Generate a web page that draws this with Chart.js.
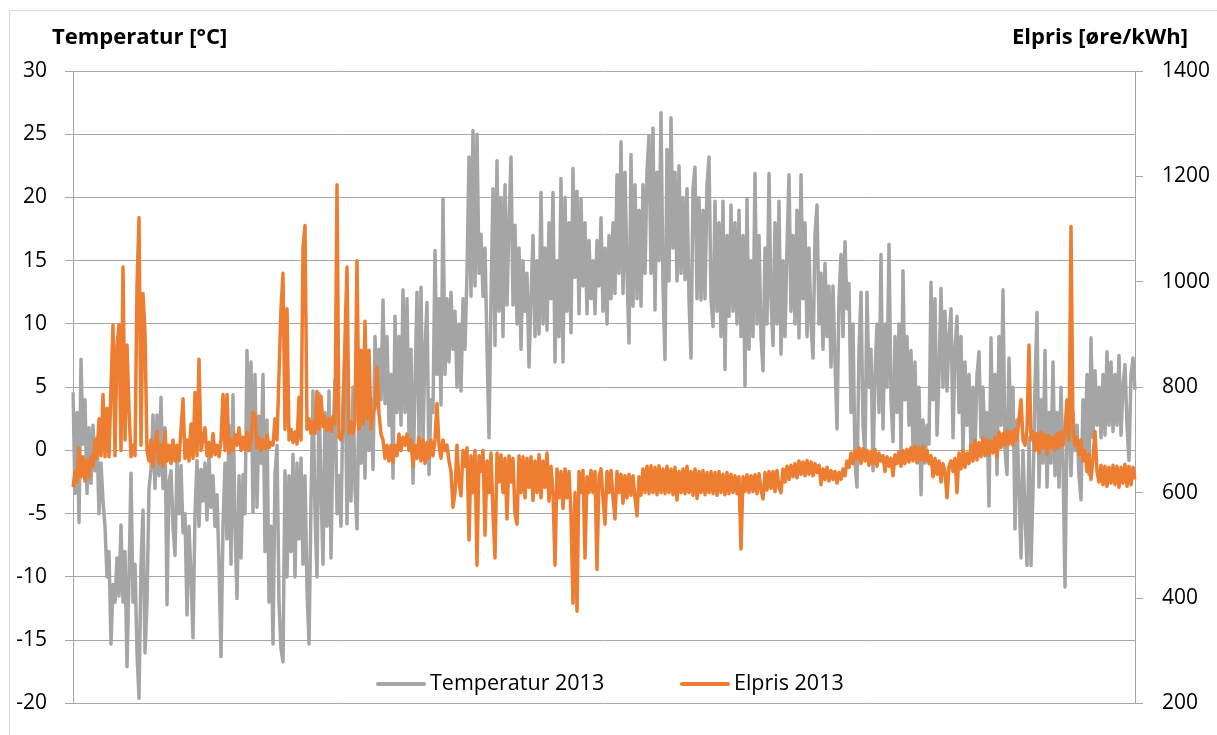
<!DOCTYPE html>
<html>
<head>
<meta charset="utf-8">
<script src="https://cdn.jsdelivr.net/npm/chart.js@4/dist/chart.umd.min.js"></script>
<style>
  body { margin: 0; background: #fff; }
  #wrap { position: relative; width: 1217px; height: 735px; overflow: hidden; }
  #frame { position: absolute; left: 9px; top: 10px; width: 1300px; height: 800px;
           border-left: 1px solid #d9d9d9; border-top: 1px solid #d9d9d9; }
  canvas { position: absolute; left: 0; top: 0; }
  .axis-title { position: absolute; top: 20px; font: bold 22px "Open Sans", sans-serif; color: #000; white-space: nowrap; }
  .legend { position: absolute; top: 668px; font: 21.5px "Open Sans", sans-serif; color: #000; white-space: nowrap; line-height: 28px; }
  .legend span.swatch { display: inline-block; width: 50px; height: 4px; border-radius: 2px; vertical-align: middle; margin-right: 4px; }
</style>
</head>
<body>
<div id="wrap">
  <div id="frame"></div>
  <canvas id="chart" width="1217" height="735"></canvas>
  <div class="axis-title" style="left:52px">Temperatur [°C]</div>
  <div class="axis-title" style="left:1012px">Elpris [øre/kWh]</div>
  <div class="legend" style="left:376px"><span class="swatch" style="background:#a5a5a5"></span>Temperatur 2013</div>
  <div class="legend" style="left:680px"><span class="swatch" style="background:#ed7d31"></span>Elpris 2013</div>
</div>
<script>
const temperatur = [
  4.6, -3.4, 3.0, -5.7, 7.2, 0.5, 4.0, -3.4, 1.8, -2.6, 2.0, -1.6, 1.0, -5.0, -1.0, -4.0, -6.0, -10.0, -8.0, -15.3,
  -10.6, -12.0, -8.5, -11.5, -5.9, -12.0, -8.0, -17.1, -10.0, -1.8, -12.0, -9.0, -16.0, -19.6, -9.0, -4.7, -16.0, -12.0, -3.0, -1.5,
  2.8, -3.0, 2.8, -2.0, 4.2, -3.0, 1.8, -12.2, -2.5, -1.6, -6.0, -8.3, -0.8, -5.0, -1.2, -6.5, -5.0, -13.0, -6.0, -10.0,
  -14.8, -5.0, -0.8, -6.0, -1.5, -4.0, -1.0, -5.5, -0.5, -4.5, -2.0, -6.0, -3.5, -9.0, -16.3, -6.0, -1.0, -7.0, 2.0, -9.0,
  4.4, -6.0, -11.7, -2.0, -8.5, -1.9, -5.0, 7.9, 0.0, 7.0, -4.9, 6.0, -4.5, 2.7, -1.0, 6.0, -8.0, 2.4, -12.0, -6.0,
  -15.3, -2.0, 0.4, -12.0, -15.7, -16.7, -1.6, -10.0, -2.0, -8.0, -0.3, -10.0, -1.0, -7.0, -0.6, -9.0, -2.0, -11.0, -15.3, -4.0,
  4.7, -5.0, -10.0, 4.5, -3.0, -9.0, 3.0, -6.0, 4.7, -8.5, 1.0, 5.6, -5.0, -2.0, -6.0, 4.0, 7.9, -5.8, 2.0, -4.0,
  5.0, -3.0, -6.2, 4.5, -1.0, 3.5, -2.2, 6.3, 0.0, 4.0, -1.5, 9.0, 3.7, 8.0, 4.0, 11.9, 3.7, 9.0, 2.0, 6.0,
  -2.2, 10.6, 3.0, 9.0, 2.0, 12.7, 3.0, 12.0, 1.0, 8.0, -2.6, 5.0, 12.5, 1.0, 12.9, 0.5, 8.0, 11.7, -1.9, 4.0,
  3.0, 15.8, 6.0, 12.0, 3.6, 19.9, 6.0, 12.0, 7.0, 12.5, 8.0, 11.0, 5.0, 10.0, 4.7, 12.0, 8.0, 14.0, 23.2, 12.2,
  25.3, 13.0, 25.0, 14.0, 17.1, 12.2, 16.0, 8.3, 1.0, 12.0, 20.7, 8.3, 22.9, 11.0, 20.0, 9.0, 21.0, 11.5, 18.0, 23.2,
  11.5, 17.8, 10.0, 16.0, 8.0, 15.0, 11.0, 14.0, 6.6, 12.0, 17.0, 9.0, 15.0, 9.2, 20.4, 10.0, 16.0, 9.5, 18.0, 12.0,
  20.4, 7.0, 15.0, 9.0, 21.5, 7.0, 20.0, 11.0, 18.0, 9.3, 22.3, 13.7, 20.5, 10.8, 19.9, 13.0, 18.0, 10.8, 16.6, 12.0,
  15.0, 10.8, 16.6, 13.0, 18.4, 11.0, 16.0, 10.0, 17.0, 12.0, 18.0, 12.4, 21.8, 14.0, 24.4, 12.4, 22.0, 14.0, 8.5, 23.4,
  11.4, 21.0, 12.0, 19.0, 11.4, 21.0, 14.0, 22.0, 24.9, 14.0, 25.5, 11.1, 22.0, 15.0, 26.7, 13.0, 7.2, 23.8, 13.4, 26.3,
  16.0, 22.0, 13.4, 22.5, 14.0, 20.0, 13.5, 20.7, 12.0, 7.3, 20.7, 22.4, 12.0, 20.0, 11.9, 19.0, 12.0, 21.0, 23.2, 12.0,
  9.8, 19.7, 11.0, 18.0, 9.0, 19.7, 6.4, 17.0, 10.6, 19.4, 11.0, 18.0, 10.0, 19.0, 9.0, 17.0, 5.1, 19.9, 8.0, 15.0,
  9.0, 21.9, 10.0, 17.0, 9.0, 6.3, 16.0, 10.0, 21.9, 12.0, 8.3, 18.0, 10.0, 19.7, 7.6, 15.0, 9.0, 16.0, 21.8, 11.0,
  17.0, 10.0, 19.0, 8.9, 21.8, 12.0, 18.0, 9.0, 16.0, 10.0, 7.3, 17.0, 19.4, 10.0, 14.0, 8.0, 14.8, 9.0, 13.0, 6.6,
  13.0, 7.0, 1.7, 12.0, 15.5, 9.0, 16.5, 11.2, 13.2, 3.0, 10.0, -1.0, -2.9, 8.0, 12.5, 2.0, -0.3, 12.5, 5.0, 8.0,
  -1.6, 6.0, 10.0, 3.0, 15.5, 1.7, 10.0, 5.0, 16.3, 4.0, 0.7, 9.0, 3.0, 10.0, 0.0, 14.2, 4.0, 9.0, 2.0, 7.9,
  0.0, 7.0, -1.0, 5.0, -3.5, 2.4, -1.0, 2.0, 0.5, 13.3, 4.0, 12.0, 1.2, 6.0, 12.8, 5.0, 11.0, 4.7, 9.0, 11.2,
  1.0, 8.0, 10.6, 3.0, 9.0, -0.3, 7.0, 2.0, 6.0, 0.0, 5.0, -0.3, 6.0, 7.8, 1.0, 5.0, -0.3, 3.0, -4.4, 8.9,
  0.0, 6.0, -1.9, 9.0, 2.0, 12.7, 0.0, -1.9, 7.3, 1.0, 5.0, -6.2, 2.4, -3.0, -8.5, 0.0, -5.0, -9.1, 1.0, -9.1,
  -3.0, 5.0, 10.9, -2.9, 4.0, -1.0, 7.9, -2.9, 3.0, -1.0, 7.0, -2.0, 3.0, -2.9, 5.0, -1.0, -10.8, 2.0, 3.0, -2.0,
  3.0, 0.0, 2.0, -2.0, -3.9, 4.0, 0.0, 6.0, -1.9, 8.9, 1.0, 6.3, 2.0, 5.0, 1.0, 6.0, 1.2, 7.8, 2.0, 7.0,
  1.5, 6.0, 2.0, 7.5, 1.2, 5.0, 6.8, 2.0, -0.8, 6.0, 7.3, 4.8
];

const elpris = [
  610, 640, 620, 685, 630, 668, 622, 660, 630, 668, 650, 700, 665, 740, 670, 786, 668, 760, 668, 800,
  918, 670, 880, 918, 680, 1028, 700, 880, 757, 668, 690, 670, 992, 1122, 690, 978, 903, 680, 660, 700,
  650, 690, 716, 655, 690, 650, 716, 660, 690, 655, 700, 660, 690, 660, 720, 778, 665, 700, 660, 730,
  665, 790, 670, 853, 680, 700, 723, 670, 695, 668, 712, 672, 690, 668, 700, 786, 680, 786, 675, 700,
  680, 710, 690, 723, 680, 705, 682, 715, 680, 700, 752, 748, 685, 705, 680, 700, 683, 710, 685, 695,
  690, 740, 700, 824, 949, 1016, 720, 949, 700, 720, 695, 715, 692, 781, 700, 1064, 1107, 720, 740, 712,
  735, 712, 792, 720, 783, 725, 745, 718, 740, 716, 745, 730, 1184, 705, 700, 720, 894, 1028, 712, 735,
  712, 735, 1040, 720, 870, 730, 925, 740, 870, 720, 752, 760, 838, 750, 711, 700, 665, 690, 660, 690,
  658, 690, 670, 711, 680, 705, 690, 711, 680, 700, 650, 690, 665, 705, 660, 700, 655, 695, 665, 700,
  670, 700, 769, 690, 665, 700, 680, 690, 660, 640, 572, 600, 690, 620, 594, 680, 650, 685, 510, 670,
  600, 680, 462, 670, 640, 680, 519, 660, 600, 675, 560, 476, 675, 620, 672, 600, 665, 550, 670, 620,
  665, 560, 540, 670, 600, 668, 590, 665, 610, 668, 585, 660, 600, 672, 590, 660, 610, 675, 584, 650,
  600, 462, 645, 590, 640, 570, 645, 590, 640, 560, 390, 600, 375, 640, 600, 642, 476, 630, 600, 642,
  600, 640, 454, 630, 645, 590, 540, 640, 600, 642, 590, 550, 640, 600, 635, 580, 632, 590, 635, 595,
  632, 590, 556, 630, 595, 645, 600, 650, 598, 651, 600, 648, 596, 651, 600, 645, 598, 650, 600, 645,
  596, 648, 586, 640, 600, 645, 598, 650, 600, 640, 595, 645, 589, 640, 600, 642, 596, 638, 600, 640,
  598, 638, 595, 640, 600, 635, 596, 638, 598, 635, 600, 632, 598, 630, 493, 630, 602, 634, 600, 632,
  602, 634, 598, 636, 605, 588, 638, 605, 640, 608, 640, 602, 642, 610, 600, 645, 620, 650, 625, 652,
  630, 655, 628, 660, 635, 658, 632, 661, 635, 658, 632, 655, 638, 652, 615, 645, 625, 648, 622, 642,
  625, 640, 618, 638, 625, 645, 632, 660, 648, 675, 655, 680, 665, 685, 655, 683, 660, 680, 652, 678,
  655, 682, 650, 675, 660, 670, 640, 668, 650, 665, 632, 672, 655, 678, 650, 680, 655, 682, 658, 685,
  660, 688, 658, 685, 662, 688, 660, 680, 655, 670, 630, 665, 635, 660, 620, 655, 640, 590, 650, 660,
  640, 665, 600, 675, 645, 680, 648, 675, 655, 690, 660, 700, 662, 695, 668, 704, 670, 700, 672, 698,
  675, 705, 668, 715, 685, 712, 690, 718, 692, 715, 690, 720, 700, 740, 776, 700, 690, 720, 880, 700,
  715, 680, 712, 675, 715, 685, 710, 672, 708, 685, 705, 680, 712, 685, 715, 690, 720, 776, 700, 1105,
  720, 690, 705, 672, 700, 660, 680, 640, 672, 625, 665, 716, 640, 620, 652, 615, 650, 612, 648, 618,
  652, 615, 650, 610, 648, 618, 654, 612, 650, 615, 648, 625
];

const hours = temperatur.map((_, i) => i);

const gridColor = '#a6a6a6';
const tickFont = { family: '"Open Sans", sans-serif', size: 21 };

new Chart(document.getElementById('chart'), {
  type: 'line',
  data: {
    labels: hours,
    datasets: [
      {
        // first dataset is drawn on top
        label: 'Elpris 2013',
        data: elpris,
        yAxisID: 'yPris',
        borderColor: '#ed7d31',
        borderWidth: 3.5,
        borderJoinStyle: 'round',
        pointRadius: 0,
        tension: 0
      },
      {
        label: 'Temperatur 2013',
        data: temperatur,
        yAxisID: 'yTemp',
        borderColor: '#a5a5a5',
        borderWidth: 3.5,
        borderJoinStyle: 'round',
        pointRadius: 0,
        tension: 0
      }
    ]
  },
  options: {
    responsive: false,
    animation: false,
    layout: { padding: { top: 71, bottom: 22, left: 0, right: 0 } },
    plugins: { legend: { display: false }, tooltip: { enabled: false } },
    scales: {
      x: { display: false },
      yTemp: {
        position: 'left',
        min: -20,
        max: 30,
        ticks: { stepSize: 5, color: '#000', font: tickFont, padding: 18 },
        grid: { color: gridColor, tickLength: 8, tickColor: gridColor },
        border: { color: gridColor },
        afterFit: (scale) => { scale.width = 73; }
      },
      yPris: {
        position: 'right',
        min: 200,
        max: 1400,
        ticks: { stepSize: 200, color: '#000', font: tickFont, padding: 19, callback: (v) => String(v) },
        grid: { drawOnChartArea: false, tickLength: 8, tickColor: gridColor },
        border: { color: gridColor },
        afterFit: (scale) => { scale.width = 82; }
      }
    }
  }
});
</script>
</body>
</html>
